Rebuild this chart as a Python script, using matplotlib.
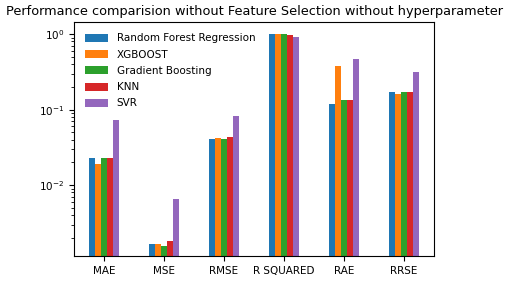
import numpy as np
import pandas as pd
import matplotlib.pyplot as plt

metrics = ["MAE", "MSE", "RMSE", "R SQUARED", "RAE", "RRSE"]
rf = [0.023, 0.00164, 0.0403, 1.0, 0.119, 0.173]
xgb = [0.019, 0.00164, 0.0419, 1.0, 0.379, 0.161]
gb = [0.023, 0.00158, 0.0403, 1.0, 0.133, 0.173]
knn = [0.023, 0.0018, 0.0428, 0.99, 0.133, 0.173]
svr = [0.0726, 0.0065, 0.0828, 0.93, 0.473, 0.318]

df = pd.DataFrame({
    "Random Forest Regression": rf,
    "XGBOOST": xgb,
    "Gradient Boosting": gb,
    "KNN": knn,
    "SVR": svr,
}, index=metrics)

fig = plt.figure(figsize=(5.1, 2.82), dpi=100)
ax = fig.add_axes([74 / 510, 1 - 256 / 282, 360 / 510, 234 / 282])
df.plot.bar(ax=ax, logy=True, rot=0)
ax.set_ylim(1.15e-3, 1.45)
ax.set_title("Performance comparision without Feature Selection without hyperparameter",
             fontsize=9.3, pad=5)
ax.tick_params(labelsize=7.5)
ax.legend(loc="upper left", fontsize=7.5, labelspacing=0.6, handlelength=2.2,
          handleheight=0.8, frameon=False, borderaxespad=0.7)
fig.savefig("out.png", dpi=100)
